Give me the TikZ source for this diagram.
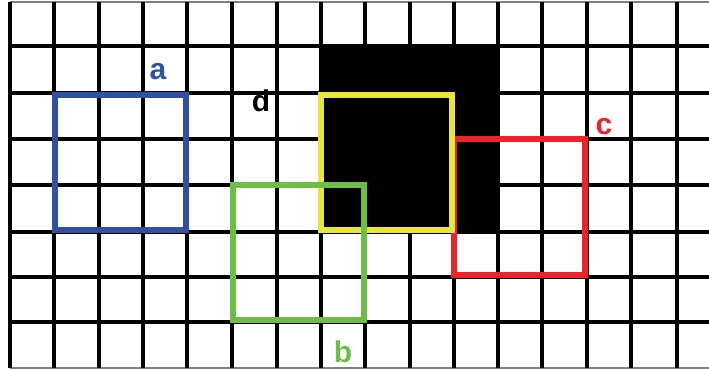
\documentclass[tikz,border=0pt]{standalone}
\usepackage{fontspec}
\setmainfont{Liberation Sans}
\definecolor{cblue}{HTML}{3050A2}
\definecolor{cgreen}{HTML}{6CBE45}
\definecolor{cred}{HTML}{EE2228}
\definecolor{cyellow}{HTML}{EAE53A}
\tikzset{
  gridline/.style={line width=1.75pt, black},
  borderline/.style={line width=0.6pt, gray},
  sq/.style={line width=2.6pt},
  lbl/.style={font=\fontsize{15}{15}\selectfont\bfseries, inner sep=0pt}
}
\begin{document}
\begin{tikzpicture}[x=0.5pt,y=-0.5pt]
\useasboundingbox (0,0) rectangle (709,370);
\fill[white] (0,0) rectangle (709,370);
% horizontal grid lines
\foreach \y in {46,93,139,185,232,277,322}
  \draw[gridline] (10,\y) -- (709,\y);
\draw[borderline] (10,2) -- (709,2);
\draw[borderline] (10,368) -- (709,368);
% vertical grid lines
\foreach \x in {10,54,99,143,187,232,277,321,365,410,454,498,542,587,631,677}
  \draw[gridline] (\x,2) -- (\x,368);
% black region
\fill[black] (320,45) rectangle (499,233);
% squares
\draw[sq, cred] (454,139) rectangle (585,275);
\draw[sq, cyellow] (321,95) rectangle (452,230);
\draw[sq, cblue] (55,95) rectangle (186,230);
\draw[sq, cgreen] (233,185) rectangle (364,320);
% labels
\node[lbl, text=cblue] (la) at (158,72) {a};
\node[lbl, text=cgreen] (lb) at (343,352) {b};
\node[lbl, text=cred] (lc) at (604,127) {c};
\node[lbl, text=black] (ld) at (261,101) {d};
\end{tikzpicture}
\end{document}
